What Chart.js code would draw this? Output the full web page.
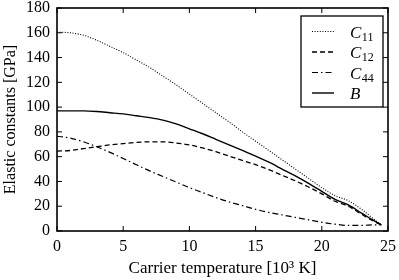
<!DOCTYPE html>
<html>
<head>
<meta charset="utf-8">
<script src="https://cdn.jsdelivr.net/npm/chart.js@4.4.0/dist/chart.umd.min.js"></script>
<style>
    html, body { margin: 0; padding: 0; background: #fff; }
    #wrap { width: 399px; height: 280px; }
</style>
</head>
<body>
<div id="wrap"><canvas id="elastic" width="399" height="280"></canvas></div>
<script>
// Data
const temps = [0, 1, 2, 3, 4, 5, 6, 7, 8, 9, 10, 11, 12, 13, 14, 15, 16, 17, 18, 19, 20, 21, 22, 23, 24, 24.5];
const c11 = [160.5, 160, 158, 154, 149, 144, 138, 132, 125, 118, 110.5, 103, 95.5, 88, 80, 72.5, 65, 57.5, 50, 42.5, 35, 28.5, 24.5, 17.5, 9, 5];
const c12 = [64.5, 65, 66.5, 68, 69.5, 70.5, 71.5, 72, 72, 71, 69.5, 67, 64, 60.5, 57, 53.5, 49.5, 45, 40.5, 35.5, 30, 24, 20, 13.5, 7.5, 5];
const c44 = [76.5, 75, 72, 68, 63.5, 58.5, 53.5, 48.5, 44, 39.5, 35, 31, 27, 23.5, 20.5, 17.5, 15, 13, 11, 9, 7, 5.5, 4.5, 4.5, 5, 5];
const bulk = [97, 97, 97, 96.5, 95.5, 94.5, 93, 91.5, 89.5, 86.5, 82.5, 78.5, 74, 69.5, 65, 60.5, 55.5, 50, 44.5, 38.5, 32, 25.5, 21, 14.5, 8, 5];
const seriesNames = ['C11', 'C12', 'C44', 'B'];
const xTicks = [0, 5, 10, 15, 20, 25];
const yTicks = [0, 20, 40, 60, 80, 100, 120, 140, 160, 180];

const serif = "'Liberation Serif', 'DejaVu Serif', serif";

function pts(ys) {
    return temps.map(function (t, i) { return { x: t, y: ys[i] }; });
}

// frame, inward ticks on all four sides, and the boxed legend
const framePlugin = {
    id: 'frame',
    afterDraw: function (chart) {
        const ctx = chart.ctx;
        const a = chart.chartArea;
        const xs = chart.scales.x;
        const ys = chart.scales.y;
        ctx.save();
        ctx.strokeStyle = '#000';
        ctx.lineWidth = 1;
        ctx.beginPath();
        xTicks.forEach(function (v) {
            const px = xs.getPixelForValue(v);
            ctx.moveTo(px, a.bottom); ctx.lineTo(px, a.bottom - 5);
            ctx.moveTo(px, a.top); ctx.lineTo(px, a.top + 5);
        });
        yTicks.forEach(function (v) {
            const py = ys.getPixelForValue(v);
            ctx.moveTo(a.left, py); ctx.lineTo(a.left + 5, py);
            ctx.moveTo(a.right, py); ctx.lineTo(a.right - 5, py);
        });
        ctx.stroke();
        ctx.lineWidth = 1.6;
        ctx.strokeRect(a.left, a.top, a.right - a.left, a.bottom - a.top);

        // legend
        const bx = a.right - 87, by = a.top + 8, bw = 82, bh = 91;
        ctx.fillStyle = '#fff';
        ctx.fillRect(bx, by, bw, bh);
        ctx.lineWidth = 1.3;
        ctx.strokeRect(bx, by, bw, bh);
        chart.data.datasets.forEach(function (ds, i) {
            const ry = by + 15.5 + i * 20.5;
            ctx.beginPath();
            ctx.setLineDash(ds.borderDash || []);
            ctx.lineWidth = ds.borderWidth;
            ctx.moveTo(bx + 11, ry);
            ctx.lineTo(bx + 33, ry);
            ctx.stroke();
            ctx.setLineDash([]);
            const name = seriesNames[i];
            ctx.fillStyle = '#000';
            ctx.textBaseline = 'alphabetic';
            ctx.textAlign = 'left';
            ctx.font = 'italic 17px ' + serif;
            ctx.fillText(name.charAt(0), bx + 49, ry + 6);
            const w = ctx.measureText(name.charAt(0)).width;
            if (name.length > 1) {
                ctx.font = '12px ' + serif;
                ctx.fillText(name.slice(1), bx + 49 + w + 0.5, ry + 9);
            }
        });
        ctx.restore();
    }
};

const ctx = document.getElementById('elastic');
const chart = new Chart(ctx, {
    type: 'scatter',
    data: {
        datasets: [{
            label: seriesNames[0],
            data: pts(c11),
            borderColor: '#000',
            borderWidth: 1.1,
            borderDash: [1, 1.6]
        }, {
            label: seriesNames[1],
            data: pts(c12),
            borderColor: '#000',
            borderWidth: 1.3,
            borderDash: [5, 3]
        }, {
            label: seriesNames[2],
            data: pts(c44),
            borderColor: '#000',
            borderWidth: 1.2,
            borderDash: [6, 3, 1.5, 3]
        }, {
            label: seriesNames[3],
            data: pts(bulk),
            borderColor: '#000',
            borderWidth: 1.4,
            borderDash: []
        }]
    },
    options: {
        responsive: false,
        animation: false,
        showLine: true,
        elements: {
            point: { radius: 0, hoverRadius: 0 },
            line: { cubicInterpolationMode: 'monotone', fill: false }
        },
        layout: { padding: { left: 0, right: 11, top: 8, bottom: 0 } },
        plugins: {
            legend: { display: false },
            tooltip: { enabled: false }
        },
        scales: {
            x: {
                type: 'linear',
                min: 0,
                max: 25,
                afterFit: function (s) {
                    s.height = 49;
                    s.paddingLeft = 0;
                    s.paddingRight = 0;
                },
                afterBuildTicks: function (s) { s.ticks = xTicks.map(function (v) { return { value: v }; }); },
                grid: { display: false, drawTicks: false },
                border: { display: false },
                ticks: { color: '#000', padding: 6, font: { family: serif, size: 16 }, maxRotation: 0 },
                title: {
                    display: true,
                    text: 'Carrier temperature [10³ K]',
                    color: '#000',
                    font: { family: serif, size: 17 },
                    padding: { top: 0, bottom: 1 }
                }
            },
            y: {
                min: 0,
                max: 180,
                afterFit: function (s) {
                    s.width = 57;
                    s.paddingTop = 0;
                    s.paddingBottom = 0;
                },
                afterBuildTicks: function (s) { s.ticks = yTicks.map(function (v) { return { value: v }; }); },
                grid: { display: false, drawTicks: false },
                border: { display: false },
                ticks: { color: '#000', padding: 7, font: { family: serif, size: 16 } },
                title: {
                    display: true,
                    text: 'Elastic constants [GPa]',
                    color: '#000',
                    font: { family: serif, size: 16 },
                    padding: { top: 1, bottom: 0 }
                }
            }
        }
    },
    plugins: [framePlugin]
});
</script>
</body>
</html>
